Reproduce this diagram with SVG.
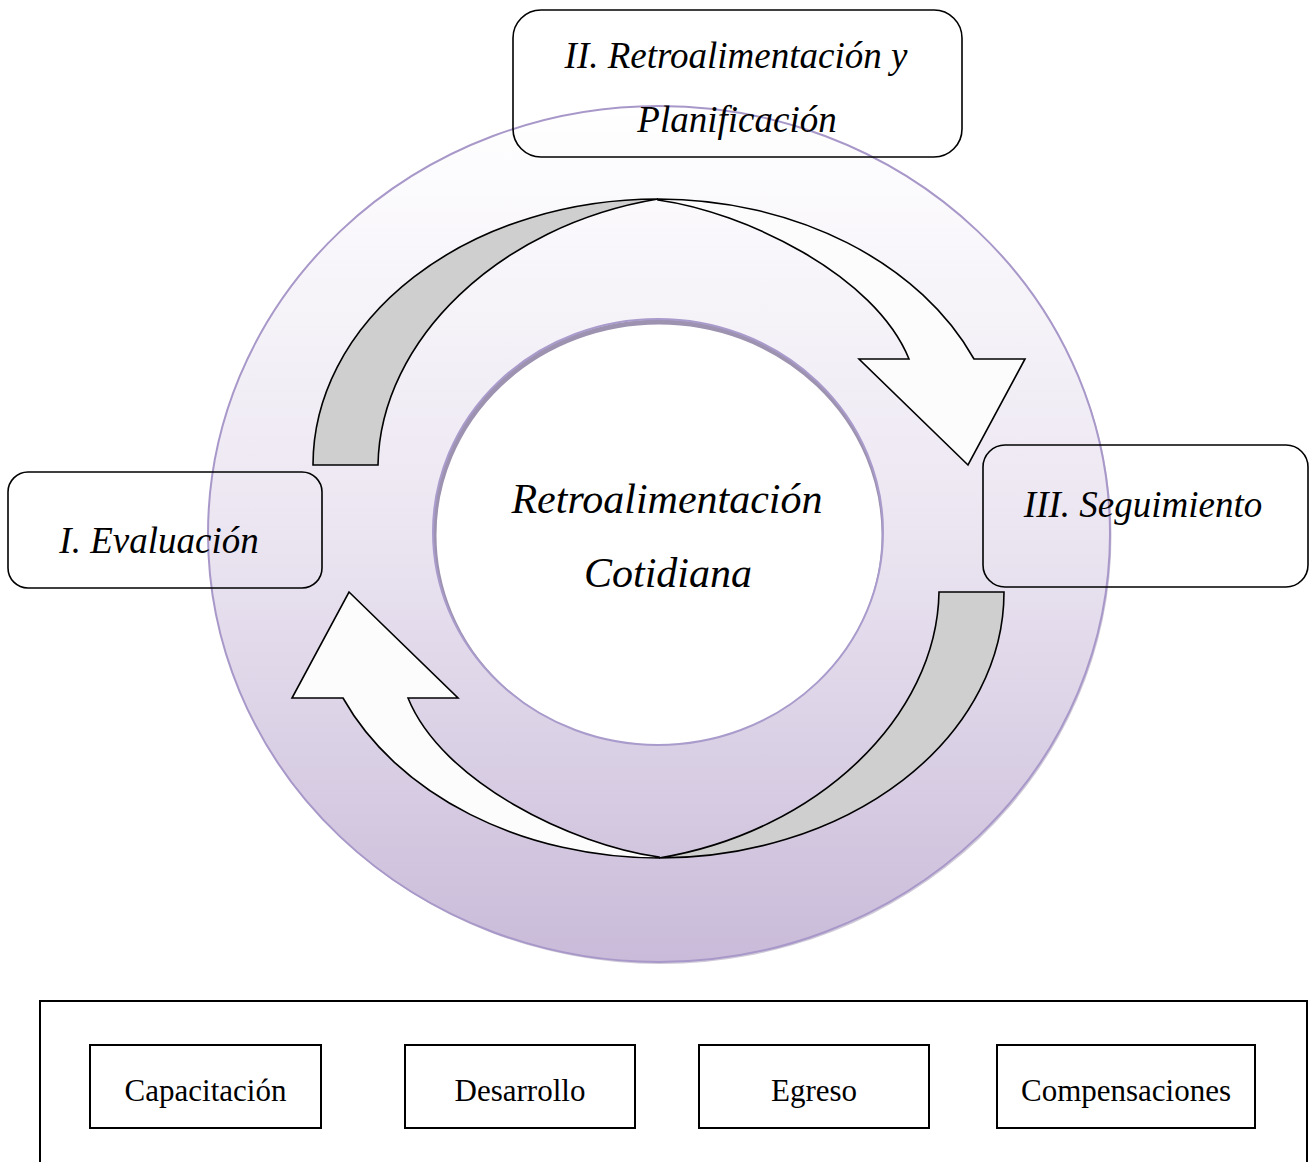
<svg xmlns="http://www.w3.org/2000/svg" width="1309" height="1162" viewBox="0 0 1309 1162">
  <style>
    .lbl { font-family: "Liberation Serif", "Times New Roman", serif; font-style: italic; fill: #000; text-anchor: middle; }
    .area { font-family: "Liberation Serif", "Times New Roman", serif; font-size: 31px; fill: #000; text-anchor: middle; }
    .stage { fill: none; stroke: #000; stroke-width: 1.6; }
    .box { fill: #fff; stroke: #000; stroke-width: 2; }
    .ribbon-back { fill: #cfcfcf; stroke: #000; stroke-width: 1.6; stroke-linejoin: miter; }
    .ribbon-front { fill: #fcfcfc; stroke: #000; stroke-width: 1.6; stroke-linejoin: miter; }
  </style>
  <defs>
    <linearGradient id="ringFill" x1="0" y1="0" x2="0" y2="1">
      <stop offset="0" stop-color="#ffffff"/>
      <stop offset="0.5" stop-color="#ebe5f1"/>
      <stop offset="1" stop-color="#c9bbd9"/>
    </linearGradient>
    <clipPath id="coreClip">
      <ellipse cx="658" cy="532" rx="225" ry="213"/>
    </clipPath>
    <!-- one half of the cycle: folded back part plus the arrow -->
    <g id="cycleArrow">
      <path class="ribbon-back" d="M313,465 A345,266 0 0,1 658,199 C500,225 380,340 378,465 Z"/>
      <path class="ribbon-front" d="M658,199 A345,266 0 0,1 974,359 L1025,359 L968,465 L859,359 L909,359 C875,275 745,212 658,200 Z"/>
    </g>
  </defs>

  <rect width="1309" height="1162" fill="#fff"/>

  <!-- outer ring -->
  <g id="ring">
    <ellipse cx="660.5" cy="536" rx="451" ry="428" fill="#a89db8" opacity="0.55"/>
    <ellipse cx="659" cy="534" rx="451" ry="428" fill="url(#ringFill)" stroke="#a898c9" stroke-width="2"/>
  </g>

  <!-- central node -->
  <g id="core">
    <ellipse cx="658" cy="532" rx="225" ry="213" fill="#fff"/>
    <g clip-path="url(#coreClip)">
      <ellipse cx="659" cy="535" rx="225" ry="213" fill="none" stroke="#9d92b0" stroke-width="5"/>
    </g>
    <ellipse cx="658" cy="532" rx="225" ry="213" fill="none" stroke="#a99bcb" stroke-width="2"/>
    <text class="lbl" x="667" y="513" font-size="42">Retroalimentación</text>
    <text class="lbl" x="668" y="587" font-size="42">Cotidiana</text>
  </g>

  <!-- cycle connectors -->
  <g id="connectors">
    <use href="#cycleArrow"/>
    <use href="#cycleArrow" transform="rotate(180 658.5 528.5)"/>
  </g>

  <!-- stage nodes -->
  <g id="stage-evaluacion">
    <rect class="stage" x="8" y="472" width="314" height="116" rx="20"/>
    <text class="lbl" x="159" y="553" font-size="37">I. Evaluación</text>
  </g>
  <g id="stage-planificacion">
    <rect class="stage" x="513" y="10" width="449" height="147" rx="28"/>
    <text class="lbl" x="736" y="68" font-size="37">II. Retroalimentación y</text>
    <text class="lbl" x="737" y="132" font-size="37">Planificación</text>
  </g>
  <g id="stage-seguimiento">
    <rect class="stage" x="983" y="445" width="325" height="142" rx="22"/>
    <text class="lbl" x="1143" y="517" font-size="37">III. Seguimiento</text>
  </g>

  <!-- related processes -->
  <g id="processes">
    <rect x="40" y="1001" width="1267" height="175" fill="#fff" stroke="#000" stroke-width="2"/>
    <g id="proc-capacitacion">
      <rect class="box" x="90" y="1045" width="231" height="83"/>
      <text class="area" x="205.5" y="1101">Capacitación</text>
    </g>
    <g id="proc-desarrollo">
      <rect class="box" x="405" y="1045" width="230" height="83"/>
      <text class="area" x="520" y="1101">Desarrollo</text>
    </g>
    <g id="proc-egreso">
      <rect class="box" x="699" y="1045" width="230" height="83"/>
      <text class="area" x="814" y="1101">Egreso</text>
    </g>
    <g id="proc-compensaciones">
      <rect class="box" x="997" y="1045" width="258" height="83"/>
      <text class="area" x="1126" y="1101">Compensaciones</text>
    </g>
  </g>
</svg>
